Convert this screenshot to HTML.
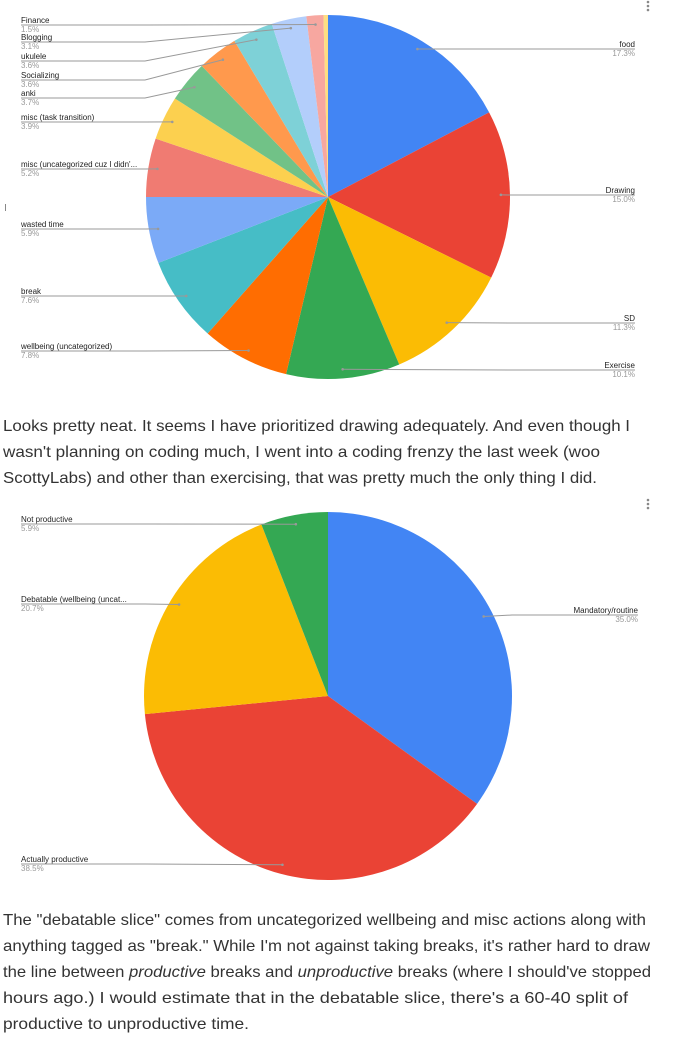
<!DOCTYPE html>
<html><head><meta charset="utf-8"><style>
html,body{margin:0;padding:0;background:#fff;width:691px;height:1060px;overflow:hidden}
svg{display:block}
.lbl{font-family:"Liberation Sans",Arial,sans-serif;font-size:8px;fill:#222}
.pct{font-family:"Liberation Sans",Arial,sans-serif;font-size:8px;fill:#999}
.para{font-family:"Liberation Sans","DejaVu Sans",sans-serif;font-size:16px;fill:#333}
</style></head><body>
<svg id="root" width="691" height="1060">
<g id="chart1"></g>
<g id="chart2"></g>
<g fill="#888"><circle cx="648" cy="2" r="1.3"/><circle cx="648" cy="6" r="1.3"/><circle cx="648" cy="10" r="1.3"/></g>
<g fill="#888"><circle cx="648" cy="500" r="1.3"/><circle cx="648" cy="504" r="1.3"/><circle cx="648" cy="508" r="1.3"/></g>
<rect x="5" y="204" width="1" height="7" fill="#888"/>
<g>
<text class="para" x="3" y="431" textLength="627" lengthAdjust="spacingAndGlyphs">Looks pretty neat. It seems I have prioritized drawing adequately. And even though I</text>
<text class="para" x="3" y="457" textLength="597" lengthAdjust="spacingAndGlyphs">wasn't planning on coding much, I went into a coding frenzy the last week (woo</text>
<text class="para" x="3" y="483" textLength="594" lengthAdjust="spacingAndGlyphs">ScottyLabs) and other than exercising, that was pretty much the only thing I did.</text>
</g>
<g>
<text class="para" x="3" y="925" textLength="643" lengthAdjust="spacingAndGlyphs">The "debatable slice" comes from uncategorized wellbeing and misc actions along with</text>
<text class="para" x="3" y="951" textLength="647" lengthAdjust="spacingAndGlyphs">anything tagged as "break." While I'm not against taking breaks, it's rather hard to draw</text>
<text class="para" x="3" y="977" textLength="648" lengthAdjust="spacingAndGlyphs">the line between <tspan font-style="italic">productive</tspan> breaks and <tspan font-style="italic">unproductive</tspan> breaks (where I should've stopped</text>
<text class="para" x="3" y="1003" textLength="625" lengthAdjust="spacingAndGlyphs">hours ago.) I would estimate that in the debatable slice, there's a 60-40 split of</text>
<text class="para" x="3" y="1029" textLength="246" lengthAdjust="spacingAndGlyphs">productive to unproductive time.</text>
</g>
</svg>
<script>
const cats1 = ["food","Drawing","SD","Exercise","wellbeing (uncategorized)","break","wasted time","misc (uncategorized cuz I didn'...","misc (task transition)","anki","Socializing","ukulele","Blogging","Finance","other"];
const vals1 = [17.3,15.0,11.3,10.1,7.8,7.6,5.9,5.2,3.9,3.7,3.6,3.6,3.1,1.5,0.4];
const colors1 = ["#4285F4","#EA4335","#FBBC04","#34A853","#FF6D01","#46BDC6","#7BAAF7","#F07B72","#FCD04F","#71C287","#FF994D","#7ED1D7","#B3CEFB","#F7A7A0","#FDDE83"];
const labelY1 = [49,195,323,370,351,296,229,169,122,98,80,61,42,25,null];
const side1 = ["r","r","r","r","l","l","l","l","l","l","l","l","l","l",null];

const cats2 = ["Mandatory/routine","Actually productive","Debatable (wellbeing (uncat...","Not productive"];
const vals2 = [35.0,38.5,20.7,5.9];
const colors2 = ["#4285F4","#EA4335","#FBBC04","#34A853"];
const labelY2 = [615,864,604,524];
const side2 = ["r","l","l","l"];

const NS="http://www.w3.org/2000/svg";
function mk(tag,attrs,parent){const e=document.createElementNS(NS,tag);for(const k in attrs)e.setAttribute(k,attrs[k]);parent.appendChild(e);return e;}
function pt(cx,cy,r,a){return [cx+r*Math.sin(a),cy-r*Math.cos(a)];}

function drawPie(g,cats,vals,colors,labelY,side,cx,cy,R,rightX){
  const total=vals.reduce((a,b)=>a+b,0);
  let a0=0;
  vals.forEach((v,i)=>{
    const a1=a0+v/total*2*Math.PI;
    const p0=pt(cx,cy,R,a0),p1=pt(cx,cy,R,a1);
    const large=(a1-a0)>Math.PI?1:0;
    const s=mk('path',{d:`M${cx},${cy}L${p0[0]},${p0[1]}A${R},${R} 0 ${large} 1 ${p1[0]},${p1[1]}Z`,fill:colors[i]},g);
    
    
    if(labelY[i]!=null){
      const mid=(a0+a1)/2;
      const d=pt(cx,cy,R*0.95,mid);
      const ly=labelY[i];
      const lg=mk('g',{},g);
      
      
      let pts;
      if(side[i]==='l'){
        const bx=Math.min(d[0],145);
        pts=`21,${ly} ${bx},${ly} ${d[0]},${d[1]}`;
        mk('text',{class:'lbl',x:21,y:ly-2},lg).textContent=cats[i];
        mk('text',{class:'pct',x:21,y:ly+7},lg).textContent=vals[i].toFixed(1)+'%';
      } else {
        const bx=Math.max(d[0],512);
        pts=`${rightX},${ly} ${bx},${ly} ${d[0]},${d[1]}`;
        mk('text',{class:'lbl',x:rightX,y:ly-2,'text-anchor':'end'},lg).textContent=cats[i];
        mk('text',{class:'pct',x:rightX,y:ly+7,'text-anchor':'end'},lg).textContent=vals[i].toFixed(1)+'%';
      }
      mk('polyline',{points:pts,fill:'none',stroke:'#999','stroke-width':1},lg);
      mk('circle',{cx:d[0],cy:d[1],r:1.3,fill:'#999'},lg);
    }
    a0=a1;
  });
}
drawPie(document.getElementById('chart1'),cats1,vals1,colors1,labelY1,side1,328,197,182,635);
drawPie(document.getElementById('chart2'),cats2,vals2,colors2,labelY2,side2,328,696,184,638);
</script>
</body></html>
